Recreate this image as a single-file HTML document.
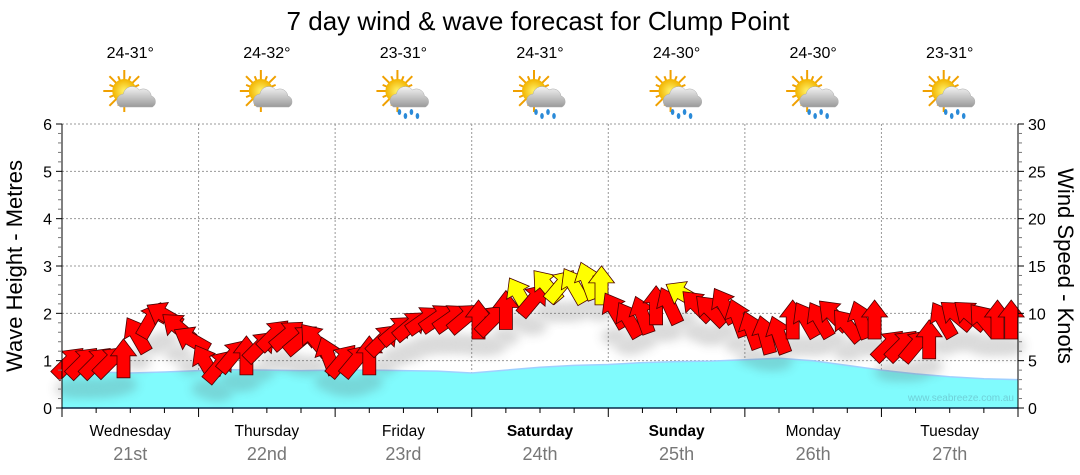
<!DOCTYPE html>
<html><head><meta charset="utf-8"><style>
body{margin:0;background:#fff;width:1080px;height:475px;overflow:hidden;font-family:"Liberation Sans","DejaVu Sans",sans-serif}
svg{display:block}
</style></head><body>
<svg id="chart" width="1080" height="475" viewBox="0 0 1080 475" xmlns="http://www.w3.org/2000/svg">
<defs>
<filter id="sh" x="-50%" y="-50%" width="200%" height="200%"><feGaussianBlur stdDeviation="5"/></filter>
<radialGradient id="sun" cx="50%" cy="50%" r="50%"><stop offset="0" stop-color="#fff36a"/><stop offset="1" stop-color="#f2b400"/></radialGradient>
<linearGradient id="cloud" x1="0" y1="0" x2="0" y2="1"><stop offset="0" stop-color="#f4f4f4"/><stop offset="1" stop-color="#9a9a9a"/></linearGradient>
</defs>
<text x="538" y="30" text-anchor="middle" font-size="26" fill="#000">7 day wind &amp; wave forecast for Clump Point</text>
<g id="grid"></g>
<g id="wave"></g>
<text x="1014" y="401" text-anchor="end" font-size="10" fill="#6fd0d8">www.seabreeze.com.au</text>
<g id="wind"></g>
<g id="axes"></g>
<g id="days"></g>
<text transform="translate(22,266) rotate(-90)" text-anchor="middle" font-size="22">Wave Height - Metres</text>
<text transform="translate(1058,266) rotate(90)" text-anchor="middle" font-size="22">Wind Speed - Knots</text>
</svg>
<script>
const dayNames=["Wednesday","Thursday","Friday","Saturday","Sunday","Monday","Tuesday"];
const dayDates=["21st","22nd","23rd","24th","25th","26th","27th"];
const dayBold=[false,false,false,true,true,false,false];
const temps=["24-31°","24-32°","23-31°","24-31°","24-30°","24-30°","23-31°"];
const rainy=[false,false,true,true,true,true,true];
const waveHeights=[.78,.76,.74,.76,.79,.81,.80,.79,.80,.80,.79,.78,.74,.80,.86,.90,.92,.96,.98,.99,1.02,1.05,1.00,.90,.80,.72,.66,.62,.60];
const windSpeeds=[4.8,4.8,4.8,4.9,5.2,7.7,9.3,9.8,8.5,7.2,
4.8,4.4,5.5,5.5,6.5,7.7,7.7,7.2,7.2,5.5,
5.0,5.0,5.5,7.2,8.2,8.7,9.3,9.5,9.5,9.5,
9.3,9.3,10.3,11.9,11.4,12.9,12.9,12.9,13.4,12.9,
10.3,9.3,9.8,10.8,10.8,12.0,10.8,10.3,10.8,9.5,
8.2,7.7,7.7,9.3,9.3,9.3,9.8,8.7,9.3,9.3,
6.6,6.6,6.6,7.2,9.3,9.8,9.8,9.3,9.3,9.3];
const windDirs=[45,45,45,45,0,-30,30,-60,-50,-60,
-30,40,40,0,45,45,50,50,-40,-20,
40,40,0,45,50,50,55,55,55,50,
0,45,0,-30,40,-40,40,-30,-20,0,
-30,-30,-20,0,-25,-60,-45,-45,-30,-20,
-20,-15,-20,0,-30,-30,-45,-40,-20,0,
45,45,40,0,-30,-50,-50,-40,0,0];
const NS="http://www.w3.org/2000/svg";
const X0=62,X1=1018,Y0=408,Y1=124;
const xh=h=>X0+h/168*(X1-X0);
const ym=m=>Y0-m/6*(Y0-Y1);
const yk=k=>Y0-k/30*(Y0-Y1);
function mk(tag,attrs,parent){const e=document.createElementNS(NS,tag);for(const k in attrs)e.setAttribute(k,attrs[k]);parent.appendChild(e);return e;}
const grid=document.getElementById('grid'),axes=document.getElementById('axes'),days=document.getElementById('days');
for(let m=1;m<=6;m++){const l=mk('line',{x1:X0,x2:X1,y1:ym(m),y2:ym(m),stroke:'#999','stroke-dasharray':'2,2'},grid);

}
for(let d=1;d<7;d++){const l=mk('line',{x1:xh(d*24),x2:xh(d*24),y1:Y1,y2:Y0,stroke:'#999','stroke-dasharray':'2,2'},grid);

}
let pts=waveHeights.map((v,i)=>[xh(i*6),ym(v)]);
let d='M'+X0+','+Y0+' '+pts.map(p=>'L'+p[0].toFixed(1)+','+p[1].toFixed(1)).join(' ')+' L'+X1+','+Y0+'Z';
const wa=mk('path',{d:d,fill:'#80fbfd'},document.getElementById('wave'));


const wl=mk('path',{d:'M'+pts.map(p=>p[0].toFixed(1)+','+p[1].toFixed(1)).join(' L'),fill:'none',stroke:'#9fd0ff','stroke-width':1.5},document.getElementById('wave'));


const wind=document.getElementById('wind');
const arrowPts="0,-20 13,-3 6.5,-3 6.5,19 -6.5,19 -6.5,-3 -13,-3";
const shadowG=mk('g',{opacity:0.22},wind);
windSpeeds.forEach((s,i)=>{const x=xh((i+0.5)*2.4),y=yk(s)+14;
 mk('ellipse',{cx:x,cy:y+12,rx:14,ry:9,fill:'#555',filter:'url(#sh)'},shadowG);});
windSpeeds.forEach((s,i)=>{const x=xh((i+0.5)*2.4),y=yk(s);
 const a=mk('polygon',{points:arrowPts,transform:`translate(${x.toFixed(1)},${y.toFixed(1)}) rotate(${windDirs[i]})`,fill:s>=11.5?'#ffff00':'#ff0000',stroke:'#4a0000','stroke-width':0.8},wind);
 
 });
mk('line',{x1:X0,x2:X1,y1:Y0,y2:Y0,stroke:'#0a2a4a','stroke-width':1.5},axes);
mk('line',{x1:X0,x2:X0,y1:Y1,y2:Y0,stroke:'#000'},axes);
mk('line',{x1:X1,x2:X1,y1:Y1,y2:Y0,stroke:'#000'},axes);
for(let i=0;i<=30;i++){const y=ym(i*0.2),maj=i%5==0;
 mk('line',{x1:X0-(maj?6:4),x2:X0,y1:y,y2:y,stroke:maj?'#000':'#777'},axes);
 if(maj){const t=mk('text',{x:X0-10,y:y+6,'text-anchor':'end','font-size':16},axes);t.textContent=i/5;
 
 }}
for(let k=0;k<=30;k++){const y=yk(k),maj=k%5==0;
 mk('line',{x1:X1,x2:X1+(maj?6:4),y1:y,y2:y,stroke:maj?'#000':'#777'},axes);
 if(maj){const t=mk('text',{x:X1+10,y:y+6,'font-size':16},axes);t.textContent=k;
 
 }}
for(let h=0;h<=168;h+=6){const x=xh(h),maj=h%24==0;
 mk('line',{x1:x,x2:x,y1:Y0,y2:Y0+(maj?9:5),stroke:'#000'},axes);}
function icon(cx,cy,rain,g){
 for(let r=0;r<16;r++){const a=r*Math.PI/8;mk('line',{x1:cx-6+Math.cos(a)*10,y1:cy-4+Math.sin(a)*10,x2:cx-6+Math.cos(a)*(r%2?16:21),y2:cy-4+Math.sin(a)*(r%2?16:21),stroke:'#f0a000','stroke-width':2},g);}
 mk('circle',{cx:cx-6,cy:cy-4,r:12,fill:'url(#sun)'},g);
 mk('path',{d:`M${cx-10},${cy+12} a7,7 0 0 1 3,-13 a9,9 0 0 1 16,-4 a8,8 0 0 1 12,6 a6,6 0 0 1 1,11 z`,fill:'url(#cloud)',stroke:'#aaa','stroke-width':0.5},g);
 if(rain)for(let r=0;r<4;r++){mk('ellipse',{cx:cx-4+r*6,cy:cy+17+(r%2)*4,rx:1.8,ry:3,fill:'#2a8ad8'},g);}
}
for(let i=0;i<7;i++){const cx=xh(i*24+12);
 const n=mk('text',{x:cx,y:436,'text-anchor':'middle','font-size':15.5,'font-weight':dayBold[i]?'bold':'normal'},days);n.textContent=dayNames[i];
 
 
 const dt=mk('text',{x:cx,y:460,'text-anchor':'middle','font-size':18,fill:'#777'},days);dt.textContent=dayDates[i];
 
 
 const t=mk('text',{x:cx,y:58,'text-anchor':'middle','font-size':16},days);t.textContent=temps[i];
 
 
 const g=mk('g',{},days);
 
 
 icon(cx,95,rainy[i],g);}
</script>
</body></html>
